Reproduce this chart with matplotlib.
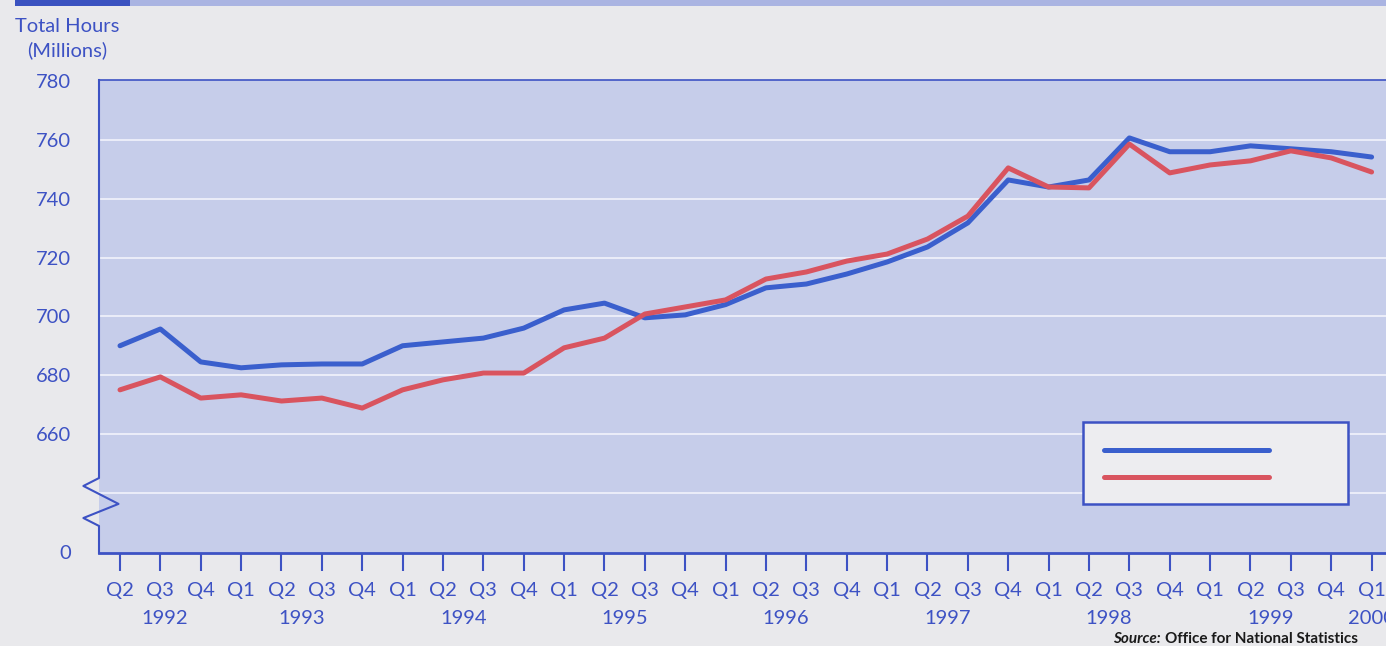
import matplotlib.pyplot as plt
import matplotlib.transforms as mtransforms
from matplotlib.patches import Rectangle

# total hours worked (millions), quarterly from 1992 Q2 to 2000 Q1
quarters = ['Q2', 'Q3', 'Q4',
            'Q1', 'Q2', 'Q3', 'Q4',
            'Q1', 'Q2', 'Q3', 'Q4',
            'Q1', 'Q2', 'Q3', 'Q4',
            'Q1', 'Q2', 'Q3', 'Q4',
            'Q1', 'Q2', 'Q3', 'Q4',
            'Q1', 'Q2', 'Q3', 'Q4',
            'Q1', 'Q2', 'Q3', 'Q4',
            'Q1']
series_blue = [690.0, 695.7, 684.5, 682.5, 683.5, 683.8, 683.8, 690.0,
               691.3, 692.6, 696.0, 702.2, 704.5, 699.5, 700.5, 704.0,
               709.7, 711.0, 714.4, 718.5, 723.6, 731.8, 746.4, 744.0,
               746.4, 760.7, 756.0, 756.0, 758.0, 757.0, 756.0, 754.2]
series_red = [675.0, 679.4, 672.2, 673.3, 671.2, 672.2, 668.8, 675.0,
              678.4, 680.7, 680.7, 689.3, 692.6, 700.8, 703.2, 705.6,
              712.7, 715.1, 718.8, 721.2, 726.3, 734.1, 750.5, 744.0,
              743.7, 758.6, 748.8, 751.5, 752.9, 756.3, 753.9, 749.1]
years = ['1992', '1993', '1994', '1995', '1996', '1997', '1998', '1999', '2000']
year_pos = [1.1, 4.5, 8.5, 12.5, 16.5, 20.5, 24.5, 28.5, 31]

# value axis is broken: the bottom of the frame stands for zero
y_ticks = [620, 660, 680, 700, 720, 740, 760, 780]
y_labels = ['0', '660', '680', '700', '720', '740', '760', '780']
grid_levels = [640, 660, 680, 700, 720, 740, 760]

ink = '#3d52c4'
blue = '#3a5fcd'
red = '#d9545f'
fs = 14.5

fig = plt.figure(figsize=(13.86, 6.46), dpi=100, facecolor='#e9e9ec')
ax = fig.add_axes([99 / 1386, 1 - 553 / 646, 1.01 - 99 / 1386, (553 - 80) / 646])
ax.set_facecolor('#c6cdea')

x = list(range(len(quarters)))
for g in grid_levels:
    ax.axhline(g, color='#eef0fa', lw=1.3, zorder=1)
ax.plot(x, series_blue, color=blue, lw=3.6, solid_capstyle='round', zorder=3)
ax.plot(x, series_red, color=red, lw=3.6, solid_capstyle='round', zorder=3)

ax.set_xlim(-0.52, 31.7)
ax.set_ylim(619.5, 780.4)

ax.set_xticks(x)
ax.set_xticklabels(quarters, fontsize=fs, color=ink, family='Lato')
ax.tick_params(axis='x', direction='out', length=13, width=1.5, color=ink, pad=8)
ax.set_yticks(y_ticks)
ax.set_yticklabels(y_labels, fontsize=fs, color=ink, family='Lato')
ax.tick_params(axis='y', length=0, pad=20)

for side in ['right', 'left']:
    ax.spines[side].set_visible(False)
ax.spines['top'].set_color(ink)
ax.spines['top'].set_linewidth(1.2)
ax.spines['bottom'].set_color(ink)
ax.spines['bottom'].set_linewidth(2)

# left frame edge with the zigzag break marker
trans = mtransforms.blended_transform_factory(ax.transAxes, ax.transData)
bx = [0, 0, -0.012, 0.015, -0.012, 0, 0]
by = [780.4, 645.0, 642.3, 636.2, 631.4, 628.7, 619.5]
ax.plot(bx, by, color=ink, lw=1.5, transform=trans, clip_on=False, zorder=4)

for yr, xp in zip(years, year_pos):
    ax.annotate(yr, xy=(xp, 0), xycoords=('data', 'axes fraction'),
                xytext=(0, -47), textcoords='offset points',
                ha='center', va='center', fontsize=fs, color=ink, family='Lato')

# key box (no series names printed)
kx0, kx1 = 1083 / 1386, 1348 / 1386
ky0, ky1 = 1 - 504 / 646, 1 - 422 / 646
fig.patches.append(Rectangle((kx0, ky0), kx1 - kx0, ky1 - ky0, transform=fig.transFigure,
                             facecolor='#ededf0', edgecolor=ink, lw=1.8, zorder=5))
fig.add_artist(plt.Line2D([1104 / 1386, 1269 / 1386], [1 - 450 / 646] * 2,
                          color=blue, lw=3.6, solid_capstyle='round', zorder=6))
fig.add_artist(plt.Line2D([1104 / 1386, 1269 / 1386], [1 - 477 / 646] * 2,
                          color=red, lw=3.6, solid_capstyle='round', zorder=6))

# header strip
fig.patches.append(Rectangle((0.011, 1 - 6 / 646), 0.083, 6 / 646, transform=fig.transFigure,
                             facecolor='#3a52c0', lw=0))
fig.patches.append(Rectangle((0.094, 1 - 6 / 646), 0.906, 6 / 646, transform=fig.transFigure,
                             facecolor='#aab4e2', lw=0))

fig.text(67 / 1386, 1 - 26 / 646, 'Total Hours', ha='center', va='center',
         fontsize=fs, color=ink, family='Lato')
fig.text(67 / 1386, 1 - 50 / 646, '(Millions)', ha='center', va='center',
         fontsize=fs, color=ink, family='Lato')
fig.text(1113 / 1386, 1 - 639 / 646, 'Source:', ha='left', va='center',
         fontsize=11, color='#1a1a1a', family='Lato', weight='bold', style='italic')
fig.text(1165 / 1386, 1 - 639 / 646, 'Office for National Statistics', ha='left', va='center',
         fontsize=11, color='#1a1a1a', family='Lato', weight='bold')

fig.savefig('out.png', dpi=100, facecolor=fig.get_facecolor())
